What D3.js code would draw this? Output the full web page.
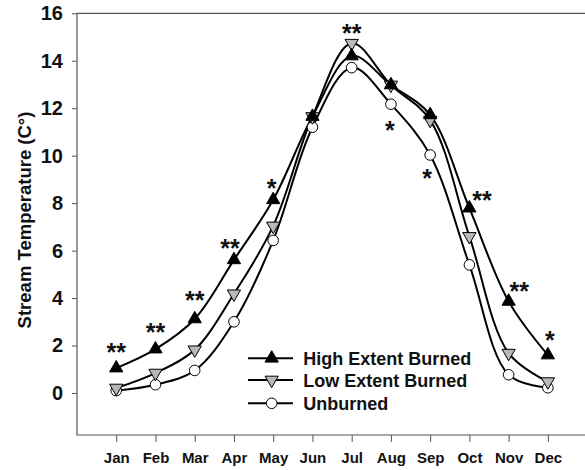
<!DOCTYPE html>
<html>
<head>
<meta charset="utf-8">
<script src="https://cdn.jsdelivr.net/npm/d3@7"></script>
<style>
  body { margin: 0; background: #fff; }
  svg { display: block; font-family: "Liberation Sans", Arial, sans-serif; font-weight: bold; }
</style>
</head>
<body>
<svg id="chart" width="585" height="470"></svg>
<script>
// monthly mean stream temperature
const months = ["Jan", "Feb", "Mar", "Apr", "May", "Jun", "Jul", "Aug", "Sep", "Oct", "Nov", "Dec"];
const highBurned = [1.05, 1.85, 3.12, 5.61, 8.14, 11.65, 14.2, 12.98, 11.72, 7.79, 3.86, 1.6];
const lowBurned = [0.21, 0.84, 1.82, 4.18, 7.04, 11.65, 14.74, 12.98, 11.5, 6.6, 1.68, 0.48];
const unburned = [0.1, 0.35, 0.95, 3.0, 6.43, 11.2, 13.71, 12.17, 10.03, 5.4, 0.77, 0.22];
const yTicks = [0, 2, 4, 6, 8, 10, 12, 14, 16];

// significance marks (month position, temperature where they sit)
const starLabels = ["**", "**", "**", "**", "*", "**", "*", "*", "**", "**", "*"];
const starMonth = [0, 1, 2, 2.9, 3.96, 6, 6.97, 7.92, 9.32, 10.27, 11.05];
const starValue = [1.93, 2.77, 4.11, 6.32, 8.84, 15.4, 11.3, 9.26, 8.35, 4.52, 2.45];

const legendNames = ["High Extent Burned", "Low Extent Burned", "Unburned"];

const svg = d3.select("#chart");
const plotLeft = 77, plotTop = 13.3, plotBottom = 435;

const x = d3.scaleLinear().domain([-1, 12]).range([plotLeft, plotLeft + 13 * 39.24]);
const y = d3.scaleLinear().domain([-1.77, 16]).range([plotBottom, plotTop]);

// frame (top, left, bottom; right side runs off the picture)
svg.append("path")
  .attr("d", `M${x(12) + 5},${plotTop}H${plotLeft}V${plotBottom}H${x(12) + 5}`)
  .attr("fill", "none")
  .attr("stroke", "#555")
  .attr("stroke-width", 1.2);

const yAxis = svg.append("g")
  .attr("transform", `translate(${plotLeft},0)`)
  .call(d3.axisLeft(y).tickValues(yTicks).tickSize(5).tickPadding(9).tickFormat(d3.format("d")));
yAxis.select(".domain").remove();
yAxis.selectAll("line").attr("stroke", "#555");
yAxis.selectAll("text").attr("font-size", 20).attr("fill", "#111").attr("font-family", null);

const xAxis = svg.append("g")
  .attr("transform", `translate(0,${plotBottom})`)
  .call(d3.axisBottom(x).tickValues(d3.range(12)).tickSize(7).tickPadding(10).tickFormat(i => months[i]));
xAxis.select(".domain").remove();
xAxis.selectAll("line").attr("stroke", "#555");
xAxis.selectAll("text").attr("font-size", 15).attr("fill", "#111").attr("font-family", null);

svg.append("text")
  .attr("transform", "translate(31,220) rotate(-90)")
  .attr("text-anchor", "middle")
  .attr("font-size", 18.5)
  .attr("fill", "#111")
  .text("Stream Temperature (C°)");

const line = d3.line()
  .x((d, i) => x(i))
  .y(d => y(d))
  .curve(d3.curveCatmullRom.alpha(0.5));

const series = [
  { name: legendNames[2], values: unburned, symbol: d3.symbolCircle, size: 88, fill: "#fff", rot: 0 },
  { name: legendNames[1], values: lowBurned, symbol: d3.symbolTriangle, size: 76, fill: "#b8b8b8", rot: 180 },
  { name: legendNames[0], values: highBurned, symbol: d3.symbolTriangle, size: 76, fill: "#000", rot: 0 }
];

svg.selectAll("path.series")
  .data(series)
  .enter()
  .append("path")
  .attr("class", "series")
  .attr("d", s => line(s.values))
  .attr("fill", "none")
  .attr("stroke", "#000")
  .attr("stroke-width", 2);

series.forEach(s => {
  svg.append("g").selectAll("path")
    .data(s.values)
    .enter()
    .append("path")
    .attr("d", d3.symbol().type(s.symbol).size(s.size))
    .attr("transform", (d, i) => `translate(${x(i)},${y(d)}) rotate(${s.rot})`)
    .attr("fill", s.fill)
    .attr("stroke", "#000")
    .attr("stroke-width", 1);
});

// asterisks
const starSize = 25;
svg.append("g").selectAll("text")
  .data(starLabels)
  .enter()
  .append("text")
  .attr("x", (d, i) => x(starMonth[i]))
  .attr("y", (d, i) => y(starValue[i]) + starSize * 0.56)
  .attr("text-anchor", "middle")
  .attr("font-size", starSize)
  .attr("fill", "#111")
  .text(d => d);

// legend
const legendRows = [series[2], series[1], series[0]];
const legendY = [358.3, 380, 403.3];
const lg = svg.append("g").selectAll("g")
  .data(legendRows)
  .enter()
  .append("g")
  .attr("transform", (d, i) => `translate(0,${legendY[i]})`);
lg.append("line")
  .attr("x1", 248).attr("x2", 293)
  .attr("stroke", "#000").attr("stroke-width", 2);
lg.append("path")
  .attr("d", d => d3.symbol().type(d.symbol).size(d.size)())
  .attr("transform", d => `translate(271.7,0) rotate(${d.rot})`)
  .attr("fill", d => d.fill)
  .attr("stroke", "#000")
  .attr("stroke-width", 1);
lg.append("text")
  .attr("x", 303.3)
  .attr("y", 6.5)
  .attr("font-size", 18)
  .attr("fill", "#111")
  .text(d => d.name);
</script>
</body>
</html>
